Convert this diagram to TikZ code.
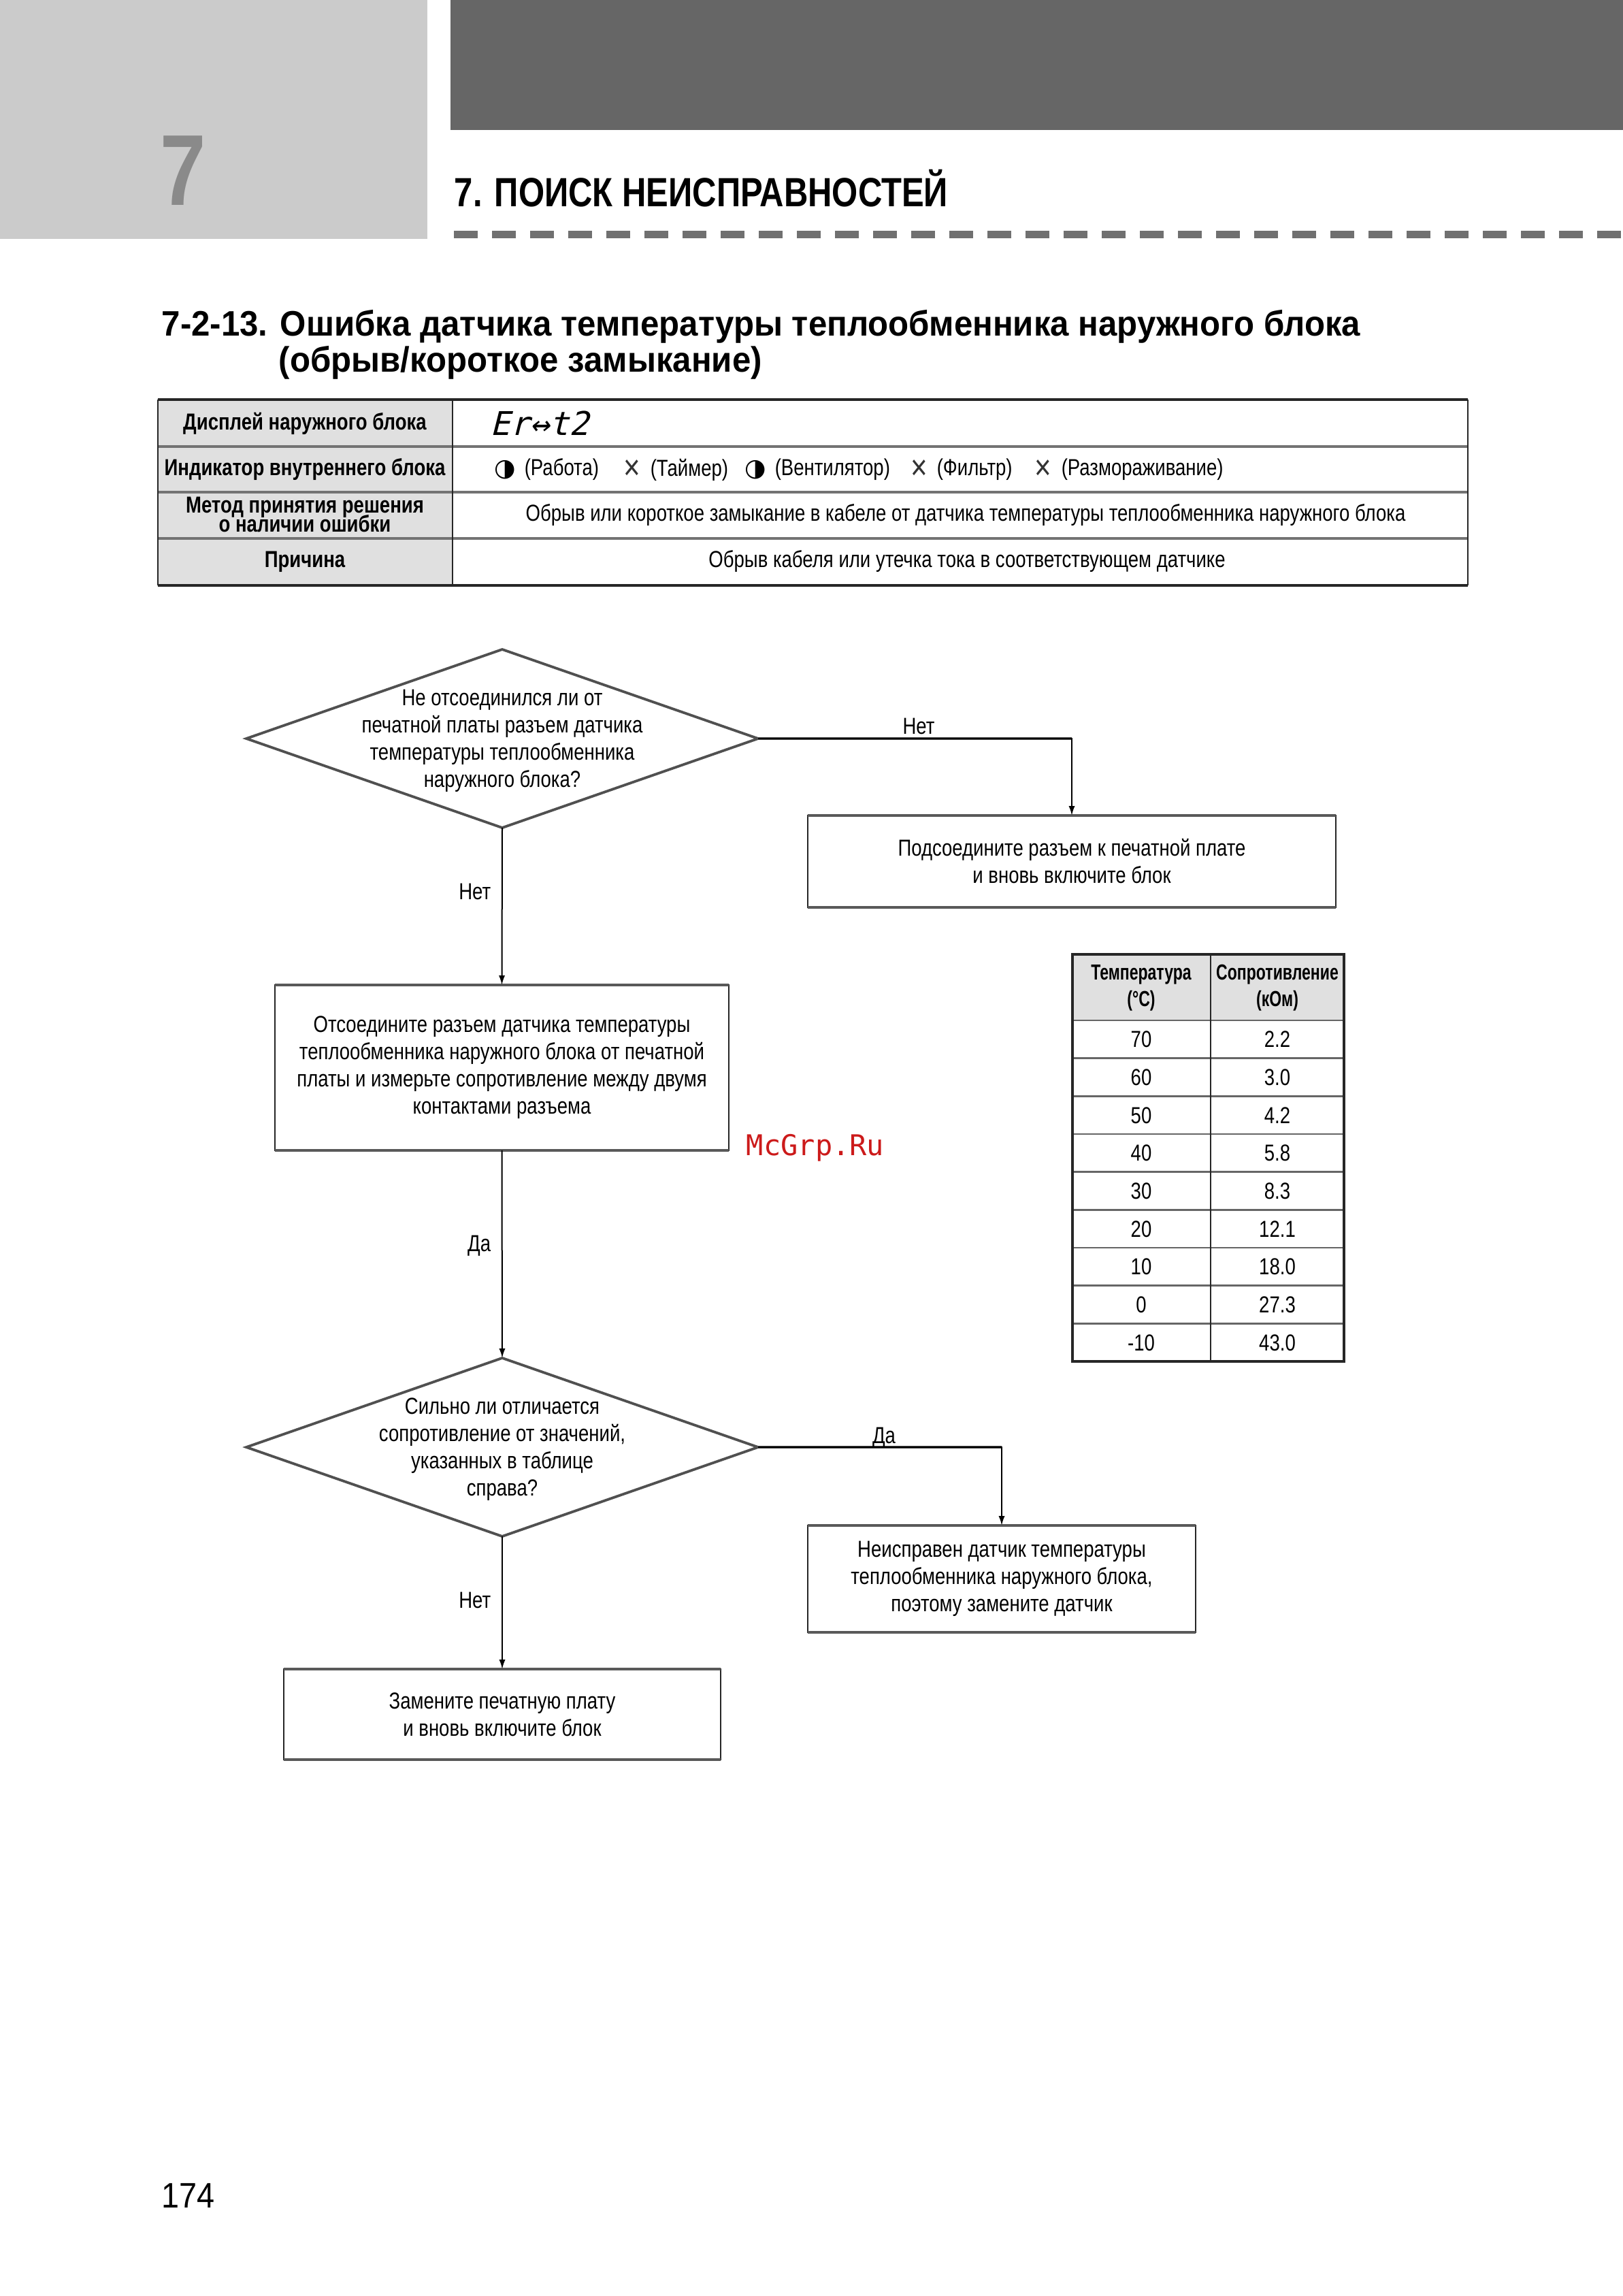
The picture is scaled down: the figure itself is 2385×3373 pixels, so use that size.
\documentclass[tikz,border=0pt]{standalone}
\usepackage{fontspec}
\setmainfont{Liberation Sans}
\newfontfamily\cond[FakeStretch=0.81]{Liberation Sans}
\newfontfamily\condb[FakeStretch=0.81]{Liberation Sans}
\newfontfamily\condbt[FakeStretch=0.72]{Liberation Sans}
\newfontfamily\headf[FakeStretch=0.817]{Liberation Sans}
\newfontfamily\titf[FakeStretch=0.946]{Liberation Sans}
\newfontfamily\dejavu{DejaVu Sans}
\newfontfamily\segf[FakeSlant=0.25]{DejaVu Sans Mono}
\newfontfamily\wmf{DejaVu Sans Mono}
\newfontfamily\pagenumf[FakeStretch=0.9]{Liberation Sans}
\usetikzlibrary{shapes.geometric,arrows.meta}
\definecolor{lightblock}{HTML}{CBCBCB}
\definecolor{darkband}{HTML}{666666}
\definecolor{cellgray}{HTML}{E0E0E0}
\definecolor{digitgray}{HTML}{8A8A8A}
\definecolor{dashgray}{HTML}{707070}
\definecolor{wmred}{HTML}{CC1A1A}
\definecolor{linegray}{HTML}{505050}
\newcommand{\fcell}{\cond\fontsize{8.5}{10}\selectfont}
\newcommand{\fleft}{\condb\bfseries\fontsize{8.5}{7}\selectfont\lineskiplimit=-20pt\relax\lineskip=0pt\relax}
\tikzset{
  celltxt/.style={inner sep=0, font=\fcell, align=center},
  lheadtxt/.style={inner sep=0, font=\fleft, align=center},
  thtxt/.style={inner sep=0, font=\condbt\bfseries\fontsize{8}{9.75}\selectfont, align=center},
  symtxt/.style={inner sep=0, font=\dejavu\fontsize{9}{10}\selectfont},
  crosstxt/.style={inner sep=0, text=black!80, font=\cond\fontsize{13}{14}\selectfont},
  procbox/.style={draw=black!85, line width=0.55pt, inner sep=0, outer sep=0, font=\fcell, align=center},
  decis/.style={draw=linegray, line width=0.95pt, shape=diamond, inner sep=0, outer sep=0, minimum width=188pt, minimum height=65.5pt},
  conn/.style={draw=black, line width=0.5pt, -{Latex[length=3.5pt,width=2.3pt]}},
  hconn/.style={draw=black!70, line width=1.1pt},
  edgelbl/.style={inner sep=0, font=\fcell},
  boxedge/.style={draw=black!65, line width=1.1pt}
}
\begin{document}
\begin{tikzpicture}[x=0.25pt,y=-0.25pt]
\useasboundingbox (0,0) rectangle (2385,3373);
\fill[white] (0,0) rectangle (2385,3373);
% header
\fill[lightblock] (0,0) rectangle (628,351);
\fill[darkband] (662,0) rectangle (2385,191);
\node[anchor=base, inner sep=0, text=digitgray, font=\headf\bfseries\fontsize{37}{40}\selectfont] (bigseven) at (269,301) {7};
\node[anchor=base west, inner sep=0, font=\headf\bfseries\fontsize{15}{18}\selectfont] (chap) at (667,303) {7. ПОИСК НЕИСПРАВНОСТЕЙ};
\draw[dashgray, line width=2.75pt, dash pattern=on 8.75pt off 5.25pt] (667,344) -- (2385,344);
% title
\node[anchor=base west, inner sep=0, font=\titf\bfseries\fontsize{13}{15}\selectfont] (title1) at (237,493) {7-2-13. Ошибка датчика температуры теплообменника наружного блока};
\node[anchor=base west, inner sep=0, font=\titf\bfseries\fontsize{13}{15}\selectfont] (title2) at (409,546) {(обрыв/короткое замыкание)};
% info table
\fill[cellgray] (232,587) rectangle (665,860);
\foreach \yy in {656,723,791} \draw[black!55, line width=0.8pt] (232,\yy) -- (2157,\yy);
\draw[black!85, line width=1pt] (232,587) -- (2157,587);
\draw[black!85, line width=1pt] (232,860) -- (2157,860);
\draw[black!85, line width=0.6pt] (232,587) -- (232,860);
\draw[black!85, line width=0.6pt] (2157,587) -- (2157,860);
\draw[black!85, line width=0.4pt] (665,587) -- (665,860);
\node[lheadtxt] (h1) at (448,622) {Дисплей наружного блока};
\node[lheadtxt] (h2) at (448,690) {Индикатор внутреннего блока};
\node[lheadtxt] (h3) at (448,756) {Метод принятия решения\\о наличии ошибки};
\node[lheadtxt] (h4) at (448,825) {Причина};
\node[anchor=west, inner sep=0, font=\segf\fontsize{12}{14}\selectfont] (disp) at (720,622) {Er↔t2};
\node[symtxt] (i1) at (742,690) {◑};
\node[celltxt, anchor=west] (i2) at (770,690) {(Работа)};
\node[crosstxt] (i3) at (929,690) {×};
\node[celltxt, anchor=west] (i4) at (955,690) {(Таймер)};
\node[symtxt] (i5) at (1110,690) {◑};
\node[celltxt, anchor=west] (i6) at (1138,690) {(Вентилятор)};
\node[crosstxt] (i7) at (1351,690) {×};
\node[celltxt, anchor=west] (i8) at (1376,690) {(Фильтр)};
\node[crosstxt] (i9) at (1533,690) {×};
\node[celltxt, anchor=west] (i10) at (1559,690) {(Размораживание)};
\node[celltxt] (m1) at (1419,757) {Обрыв или короткое замыкание в кабеле от датчика температуры теплообменника наружного блока};
\node[celltxt] (c1) at (1421,825) {Обрыв кабеля или утечка тока в соответствующем датчике};
% flowchart
\node[decis] (d1) at (738,1085) {};
\node[celltxt] (d1t) at (738,1088) {Не отсоединился ли от\\печатной платы разъем датчика\\температуры теплообменника\\наружного блока?};
\node[procbox, minimum width=194pt, minimum height=33.75pt] (b1) at (1575,1265.5) {Подсоедините разъем к печатной плате\\и вновь включите блок};
\node[procbox, minimum width=166.75pt, minimum height=60.75pt] (b2) at (737.5,1568.5) {Отсоедините разъем датчика температуры\\теплообменника наружного блока от печатной\\платы и измерьте сопротивление между двумя\\контактами разъема};
\node[decis] (d2) at (738,2126) {};
\node[celltxt] (d2t) at (738,2129) {Сильно ли отличается\\сопротивление от значений,\\указанных в таблице\\справа?};
\node[procbox, minimum width=142.5pt, minimum height=39.25pt] (b3) at (1472,2319.5) {Неисправен датчик температуры\\теплообменника наружного блока,\\поэтому замените датчик};
\node[procbox, minimum width=160.5pt, minimum height=33.25pt] (b4) at (738,2518.5) {Замените печатную плату\\и вновь включите блок};
\foreach \b in {b1,b2,b3,b4}{
  \draw[boxedge] (\b.north west) -- (\b.north east);
  \draw[boxedge] (\b.south west) -- (\b.south east);
}
\draw[hconn] (d1.east) -- (d1.east -| b1.north);
\draw[conn] (d1.east) -| (b1.north);
\draw[conn] (d1.south) -- (b2.north);
\draw[conn] (b2.south) -- (d2.north);
\draw[hconn] (d2.east) -- (d2.east -| b3.north);
\draw[conn] (d2.east) -| (b3.north);
\draw[conn] (d2.south) -- (b4.north);
\node[edgelbl, anchor=south] (l1) at (1350,1080) {Нет};
\node[edgelbl, anchor=east] (l2) at (722,1310) {Нет};
\node[edgelbl, anchor=east] (l3) at (722,1830) {Да};
\node[edgelbl, anchor=south] (l4) at (1299,2128) {Да};
\node[edgelbl, anchor=east] (l5) at (722,2351) {Нет};
% resistance table
\fill[cellgray] (1576,1402) rectangle (1975,1499);
\foreach \k in {0,...,8} \draw[black!60, line width=0.7pt] (1576,{1499+\k*55.67}) -- (1975,{1499+\k*55.67});
\draw[black!85, line width=0.8pt] (1576,1402) rectangle (1975,2000);
\draw[black!85, line width=0.5pt] (1779,1402) -- (1779,2000);
\node[thtxt] (th1) at (1677,1451) {Температура\\(°C)};
\node[thtxt] (th2) at (1877,1451) {Сопротивление\\(кОм)};
\foreach \t/\r [count=\k from 0] in {70/2.2,60/3.0,50/4.2,40/5.8,30/8.3,20/12.1,10/18.0,0/27.3,-10/43.0}{
  \node[celltxt] (tt\k) at (1677,{1527+\k*55.67}) {\t};
  \node[celltxt] (rr\k) at (1877,{1527+\k*55.67}) {\r};
}
% watermark
\node[inner sep=0, text=wmred, font=\wmf\fontsize{10.5}{12}\selectfont] (wm) at (1198,1686) {McGrp.Ru};
% page number
\node[anchor=base west, inner sep=0, font=\pagenumf\fontsize{13}{15}\selectfont] (pg) at (237,3243) {174};
\end{tikzpicture}
\end{document}
